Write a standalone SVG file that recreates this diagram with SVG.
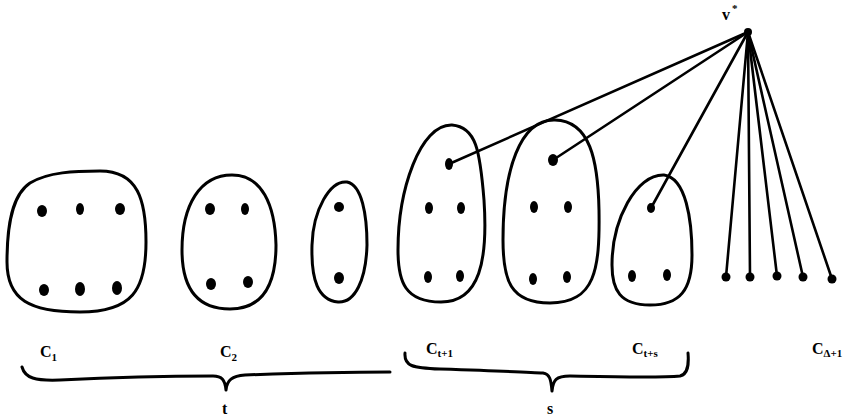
<svg xmlns="http://www.w3.org/2000/svg" width="858" height="420" viewBox="0 0 858 420">
<style>
.blob{fill:none;stroke:#000;stroke-width:3;stroke-linejoin:round}
.dot{fill:#000}
.edge{stroke:#000;stroke-width:2.6;fill:none;stroke-linecap:round}
.brace{fill:none;stroke:#000;stroke-width:3;stroke-linecap:round;stroke-linejoin:round}
.lbl{font-family:"Liberation Serif",serif;font-weight:bold;font-size:16px;fill:#000}
.sub{font-size:11px}
</style>
<rect width="858" height="420" fill="#fff"/>
<g id="connectors">
<line class="edge" x1="748" y1="32" x2="449" y2="164"/>
<line class="edge" x1="748" y1="32" x2="553" y2="160"/>
<line class="edge" x1="748" y1="32" x2="651" y2="208"/>
<line class="edge" x1="748" y1="32" x2="726" y2="277"/>
<line class="edge" x1="748" y1="32" x2="750" y2="277"/>
<line class="edge" x1="748" y1="32" x2="777" y2="276"/>
<line class="edge" x1="748" y1="32" x2="803" y2="277"/>
<line class="edge" x1="748" y1="32" x2="832" y2="279"/>
</g>
<g id="vstar">
<circle class="dot" cx="748" cy="32" r="4"/>
<text class="lbl" x="722" y="20">v</text><text class="lbl sub" x="732" y="12">*</text>
</g>
<g id="C1">
<path class="blob" d="M100 171 C138 171 146 200 146 242 C146 290 132 312 80 312 C30 312 7 300 7 262 C7 225 12 195 30 183 C48 172 75 171 100 171 Z"/>
<ellipse class="dot" cx="42" cy="211" rx="5" ry="6"/>
<ellipse class="dot" cx="80" cy="209" rx="4" ry="6"/>
<ellipse class="dot" cx="120" cy="209" rx="5" ry="6"/>
<ellipse class="dot" cx="44" cy="290" rx="5" ry="6"/>
<ellipse class="dot" cx="80" cy="289" rx="5" ry="7"/>
<ellipse class="dot" cx="117" cy="288" rx="5" ry="7"/>
<text class="lbl" x="40" y="357">C<tspan class="sub" dy="4">1</tspan></text>
</g>
<g id="C2">
<path class="blob" d="M232 175 C262 175 275 205 276 245 C276 285 262 309 230 309 C198 309 182 290 182 250 C182 205 200 175 232 175 Z"/>
<ellipse class="dot" cx="210" cy="209" rx="5" ry="6"/>
<ellipse class="dot" cx="245" cy="209" rx="4" ry="6"/>
<ellipse class="dot" cx="211" cy="284" rx="5" ry="6"/>
<ellipse class="dot" cx="248" cy="282" rx="5" ry="6"/>
<text class="lbl" x="220" y="357">C<tspan class="sub" dy="4">2</tspan></text>
</g>
<g id="C3">
<path class="blob" d="M347 182 C362 185 367 215 367 245 C366 280 355 303 338 302 C318 300 311 280 312 245 C313 210 330 180 347 182 Z"/>
<ellipse class="dot" cx="339" cy="207" rx="5" ry="5"/>
<ellipse class="dot" cx="339" cy="278" rx="5" ry="6"/>
</g>
<g id="Ct1">
<path class="blob" d="M452 125 C476 127 480 150 484 200 C488 260 480 302 441 302 C405 302 398 282 398 250 C398 190 420 124 452 125 Z"/>
<ellipse class="dot" cx="449" cy="164" rx="4" ry="6"/>
<ellipse class="dot" cx="429" cy="208" rx="4" ry="6"/>
<ellipse class="dot" cx="461" cy="208" rx="4" ry="6"/>
<ellipse class="dot" cx="428" cy="277" rx="4" ry="6"/>
<ellipse class="dot" cx="460" cy="276" rx="4" ry="6"/>
<text class="lbl" x="426" y="354">C<tspan class="sub" dy="3">t+1</tspan></text>
</g>
<g id="Cts1">
<path class="blob" d="M555 120 C590 121 598 160 599 210 C600 270 595 303 550 303 C510 303 503 280 503 240 C503 170 520 119 555 120 Z"/>
<ellipse class="dot" cx="553" cy="160" rx="5" ry="6"/>
<ellipse class="dot" cx="534" cy="207" rx="4" ry="6"/>
<ellipse class="dot" cx="568" cy="207" rx="4" ry="6"/>
<ellipse class="dot" cx="533" cy="279" rx="4" ry="6"/>
<ellipse class="dot" cx="567" cy="277" rx="4" ry="6"/>
</g>
<g id="Cts">
<path class="blob" d="M664 175 C686 178 692 220 692 255 C692 290 680 305 650 305 C620 305 612 290 612 265 C612 220 636 174 664 175 Z"/>
<ellipse class="dot" cx="651" cy="208" rx="4" ry="5"/>
<ellipse class="dot" cx="632" cy="276" rx="4" ry="6"/>
<ellipse class="dot" cx="667" cy="275" rx="4" ry="6"/>
<text class="lbl" x="632" y="354">C<tspan class="sub" dy="3">t+s</tspan></text>
</g>
<g id="CD1">
<circle class="dot" cx="726" cy="277" r="4.5"/>
<circle class="dot" cx="750" cy="277" r="4.5"/>
<circle class="dot" cx="777" cy="276" r="4.5"/>
<circle class="dot" cx="803" cy="277" r="4.5"/>
<circle class="dot" cx="832" cy="279" r="4.5"/>
<text class="lbl" x="812" y="354">C<tspan class="sub" dy="3">Δ+1</tspan></text>
</g>
<g id="brace-t">
<path class="brace" d="M22 367 C25 378 35 381 60 380 C120 377 180 376 213 376 C222 376 225 380 226 390 C227 380 232 376 245 375 C300 373 360 372 390 372"/>
<text class="lbl" x="222" y="414">t</text>
</g>
<g id="brace-s">
<path class="brace" d="M405 353 C404 366 412 368 440 369 C500 371 530 372 543 373 C550 374 551 380 552 391 C553 380 556 376 570 376 C620 377 660 378 680 376 C688 374 689 365 688 353"/>
<text class="lbl" x="547" y="414">s</text>
</g>
</svg>
